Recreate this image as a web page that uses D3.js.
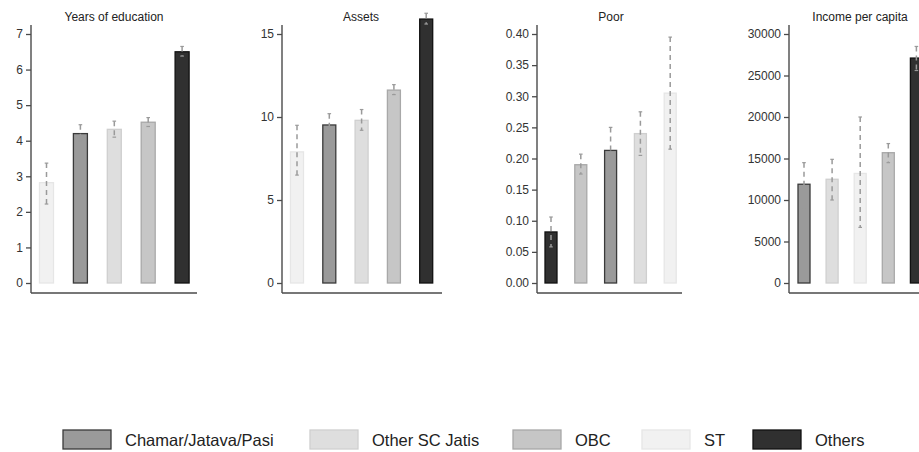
<!DOCTYPE html>
<html><head><meta charset="utf-8">
<script src="https://cdn.jsdelivr.net/npm/d3@7"></script>
<style>body{margin:0;background:#fff}svg{display:block;font-family:"Liberation Sans",Arial,sans-serif}</style>
</head><body>
<svg id="c" width="919" height="452"></svg>
<script>
const groups = ["Chamar/Jatava/Pasi","Other SC Jatis","OBC","ST","Others"];
const titles = ["Years of education","Assets","Poor","Income per capita"];
const order1 = ["ST","Chamar/Jatava/Pasi","Other SC Jatis","OBC","Others"];
const mean1 = [2.82,4.2,4.32,4.52,6.5];
const lo1 = [2.22,4.0,4.1,4.4,6.38];
const hi1 = [3.37,4.45,4.55,4.65,6.65];
const ticks1 = [0,1,2,3,4,5,6,7];
const order2 = ["ST","Chamar/Jatava/Pasi","Other SC Jatis","OBC","Others"];
const mean2 = [7.9,9.52,9.8,11.62,15.9];
const lo2 = [6.5,9.1,9.2,11.35,15.6];
const hi2 = [9.5,10.2,10.45,11.95,16.25];
const ticks2 = [0,5,10,15];
const order3 = ["Others","OBC","Chamar/Jatava/Pasi","Other SC Jatis","ST"];
const mean3 = [0.082,0.19,0.213,0.24,0.305];
const lo3 = [0.058,0.175,0.172,0.205,0.215];
const hi3 = [0.106,0.207,0.25,0.275,0.395];
const ticks3 = [0,0.05,0.10,0.15,0.20,0.25,0.30,0.35,0.40];
const order4 = ["Chamar/Jatava/Pasi","Other SC Jatis","ST","OBC","Others"];
const mean4 = [11900,12500,13200,15700,27100];
const lo4 = [9000,10000,6700,14500,25600];
const hi4 = [14500,14900,20000,16800,28500];
const ticks4 = [0,5000,10000,15000,20000,25000,30000];

const fills = {"Chamar/Jatava/Pasi":"#9a9a9a","Other SC Jatis":"#dedede","OBC":"#c6c6c6","ST":"#f1f1f1","Others":"#303030"};
const strokes = {"Chamar/Jatava/Pasi":"#3a3a3a","Other SC Jatis":"#cfcfcf","OBC":"#a8a8a8","ST":"#e6e6e6","Others":"#111"};

const panels = [
 {title:titles[0],order:order1,mean:mean1,lo:lo1,hi:hi1,ticks:ticks1,fmt:d3.format("d"),ax:31,c0:46.5,step:33.9,bw:14,xEnd:197,tc:114},
 {title:titles[1],order:order2,mean:mean2,lo:lo2,hi:hi2,ticks:ticks2,fmt:d3.format("d"),ax:282,c0:297,step:32.3,bw:13,xEnd:442,tc:361},
 {title:titles[2],order:order3,mean:mean3,lo:lo3,hi:hi3,ticks:ticks3,fmt:d3.format(".2f"),ax:537,c0:551,step:29.8,bw:12,xEnd:682,tc:611},
 {title:titles[3],order:order4,mean:mean4,lo:lo4,hi:hi4,ticks:ticks4,fmt:d3.format("d"),ax:789,c0:804,step:28.1,bw:12,xEnd:925,tc:860}
];

const svg = d3.select("#c");
panels.forEach(p=>{
  const g = svg.append("g");
  const y = d3.scaleLinear().domain([0,p.ticks[p.ticks.length-1]]).range([283,34]);
  const x = d3.scalePoint().domain(p.order).range([p.c0,p.c0+4*p.step]);
  g.append("line").attr("x1",p.ax).attr("x2",p.ax).attr("y1",25).attr("y2",293).attr("stroke","#4a4a4a").attr("stroke-width",1.4);
  g.append("line").attr("x1",p.ax).attr("x2",p.xEnd).attr("y1",293).attr("y2",293).attr("stroke","#4a4a4a").attr("stroke-width",1.4);
  const axis = g.append("g").attr("transform",`translate(${p.ax},0)`)
    .call(d3.axisLeft(y).tickValues(p.ticks).tickFormat(p.fmt).tickSize(5).tickPadding(3));
  axis.select(".domain").remove();
  axis.selectAll(".tick line").attr("stroke","#4a4a4a").attr("stroke-width",1.3);
  axis.selectAll(".tick text").attr("fill","#333").style("font-size","12px").style("font-family","Liberation Sans, Arial, sans-serif");
  g.append("text").attr("x",p.tc).attr("y",21).attr("text-anchor","middle").style("font-size","12px").attr("fill","#222").text(p.title);
  const idx = d3.range(p.order.length);
  g.selectAll("rect.bar").data(idx).join("rect")
    .attr("x",i=>x(p.order[i])-p.bw/2).attr("width",p.bw)
    .attr("y",i=>y(p.mean[i])).attr("height",i=>y(0)-y(p.mean[i]))
    .attr("fill",i=>fills[p.order[i]]).attr("stroke",i=>strokes[p.order[i]]).attr("stroke-width",1.3);
  g.selectAll("line.err").data(idx).join("line")
    .attr("x1",i=>x(p.order[i])).attr("x2",i=>x(p.order[i]))
    .attr("y1",i=>y(p.hi[i])).attr("y2",i=>y(p.lo[i]))
    .attr("stroke","#9a9a9a").attr("stroke-width",1.5).attr("stroke-dasharray","5,4");
  ["hi","lo"].forEach(k=>{
    g.selectAll("line.cap"+k).data(idx).join("line")
      .attr("x1",i=>x(p.order[i])-1.8).attr("x2",i=>x(p.order[i])+1.8)
      .attr("y1",i=>y(p[k][i])).attr("y2",i=>y(p[k][i]))
      .attr("stroke","#9a9a9a").attr("stroke-width",1.2);
  });
});

const lx = [63,310,513,642,753];
const lg = svg.append("g");
groups.forEach((gname,i)=>{
  lg.append("rect").attr("x",lx[i]).attr("y",430).attr("width",48).attr("height",19)
    .attr("fill",fills[gname]).attr("stroke",strokes[gname]).attr("stroke-width",1.3);
  lg.append("text").attr("x",lx[i]+62).attr("y",446).style("font-size","16.5px").attr("fill","#222").text(gname);
});
</script>
</body></html>
